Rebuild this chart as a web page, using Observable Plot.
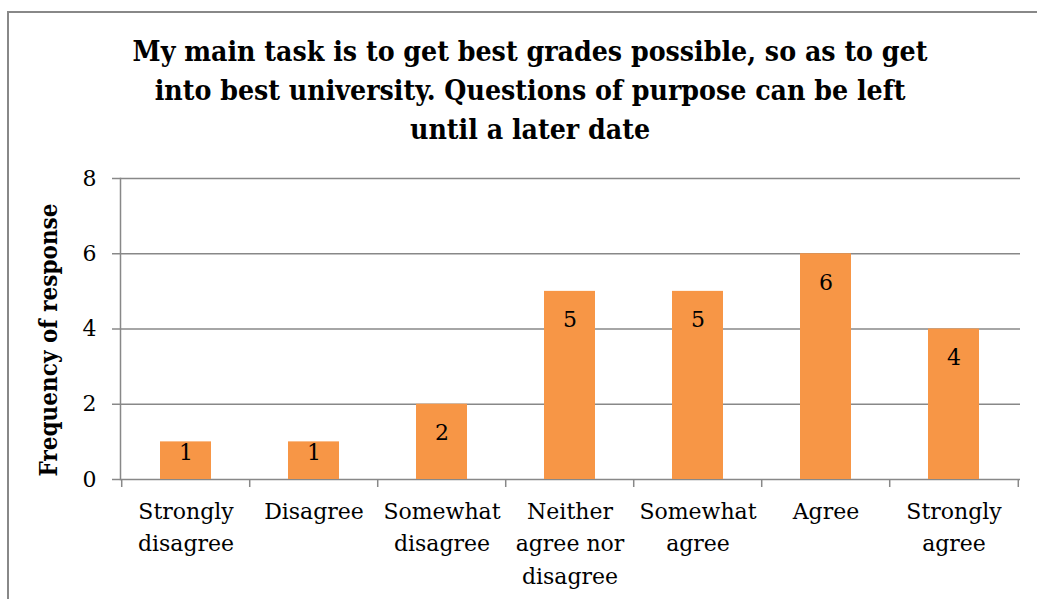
<!DOCTYPE html>
<html>
<head>
<meta charset="utf-8">
<script src="https://cdn.jsdelivr.net/npm/d3@7"></script>
<script src="https://cdn.jsdelivr.net/npm/@observablehq/plot@0.6"></script>
<style>
  html, body { margin: 0; padding: 0; background: #fff; }
  #wrap { position: relative; width: 1037px; height: 599px; overflow: hidden; }
  #frame { position: absolute; left: 7px; top: 11px; width: 1100px; height: 700px;
           border-left: 2px solid #888; border-top: 2px solid #888; box-sizing: border-box; }
  #title { position: absolute; left: 0; top: 32px; width: 1060px; text-align: center;
           font-family: "DejaVu Serif Condensed", "DejaVu Serif", serif; font-stretch: condensed;
           font-weight: bold; font-size: 28.2px; line-height: 39px; color: #000; }
  #chart { position: absolute; left: 0; top: 150px; }
</style>
</head>
<body>
<div id="wrap">
  <div id="frame"></div>
  <div id="title">My main task is to get best grades possible, so as to get<br>into best university. Questions of purpose can be left<br>until a later date</div>
  <div id="chart"></div>
</div>
<script>
const categories = ["Strongly disagree", "Disagree", "Somewhat disagree", "Neither agree nor disagree", "Somewhat agree", "Agree", "Strongly agree"];
const tickLabels = ["Strongly\ndisagree", "Disagree", "Somewhat\ndisagree", "Neither\nagree nor\ndisagree", "Somewhat\nagree", "Agree", "Strongly\nagree"];
const values = [1, 1, 2, 5, 5, 6, 4];
const yTicks = [0, 2, 4, 6, 8];
const yLabel = "Frequency of response";

const data = categories.map((c, i) => ({cat: c, value: values[i], label: tickLabels[i]}));

const W = 1037, H = 449, mL = 120, mR = 17, mT = 28, mB = 120;
const step = (W - mL - mR) / categories.length;
const gray = "#888";
const serif = "DejaVu Serif";

const chart = Plot.plot({
  width: W, height: H,
  marginLeft: mL, marginRight: mR, marginTop: mT, marginBottom: mB,
  style: {fontFamily: serif, fontSize: "22px", color: "#000", background: "transparent"},
  x: {domain: categories, paddingInner: 0.6, paddingOuter: 0.3, axis: null},
  y: {domain: [0, 8], axis: null},
  marks: [
    Plot.gridY(yTicks, {stroke: gray, strokeOpacity: 1, strokeWidth: 1.5}),
    Plot.axisY(yTicks, {tickSize: 8, tickPadding: 16, stroke: gray, strokeWidth: 1.5, fill: "#000", label: null, fontSize: 22}),
    Plot.frame({anchor: "left", stroke: gray, strokeWidth: 1.5}),
    Plot.ruleX(categories, {x: d => d, y1: 0, y2: 0, insetBottom: -8, dx: -step / 2, stroke: gray, strokeWidth: 1.5}),
    Plot.ruleX(categories.slice(-1), {x: d => d, y1: 0, y2: 0, insetBottom: -8, dx: step / 2, stroke: gray, strokeWidth: 1.5}),
    Plot.barY(data, {x: "cat", y: "value", fill: "#F79646"}),
    Plot.text(data.filter(d => d.value >= 2), {x: "cat", y: "value", text: d => String(d.value), dy: 29, fontSize: 22, fill: "#000"}),
    Plot.text(data.filter(d => d.value < 2), {x: "cat", y: "value", text: d => String(d.value), dy: 11, fontSize: 22, fill: "#000"}),
    Plot.text(data, {x: "cat", text: "label", frameAnchor: "bottom", lineAnchor: "top", dy: 16, lineHeight: 1.48, fontSize: 22, fill: "#000"}),
    Plot.text([yLabel], {text: d => d, frameAnchor: "left", textAnchor: "middle", rotate: -90, dx: -71, dy: 11, fontWeight: "bold", fontSize: 24, fontFamily: "DejaVu Serif Condensed, DejaVu Serif", fill: "#000"})
  ]
});
document.getElementById("chart").appendChild(chart);
</script>
</body>
</html>
